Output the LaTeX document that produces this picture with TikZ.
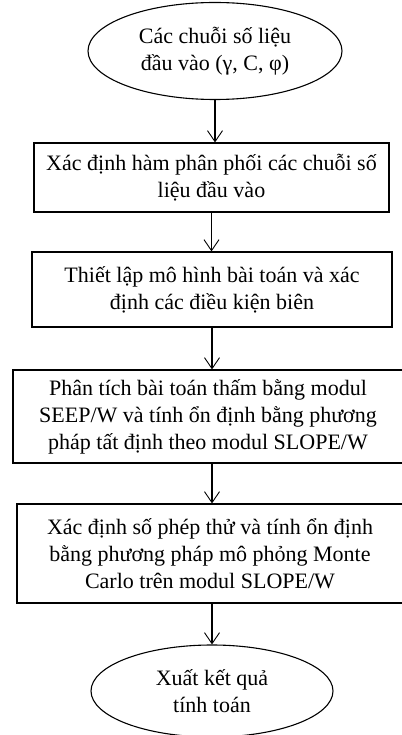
\documentclass[tikz,border=0pt]{standalone}
\usepackage{fontspec}
\setmainfont{Liberation Serif}
\usetikzlibrary{shapes.geometric,arrows.meta}

\begin{document}
\begin{tikzpicture}[x=1pt,y=-1pt,
    font=\fontsize{22}{27}\selectfont,
    line width=1.1pt,
    stepbox/.style={draw, rectangle, align=center, inner sep=0pt},
    oval/.style={draw, ellipse, align=center, inner sep=0pt},
    flow/.style={-{Straight Barb[length=11pt,width=15pt,line width=0.9pt]}}]
        % Frame of the picture
        \useasboundingbox (0,0) rectangle (401,735);

        % Start
        \node[oval, minimum width=254, minimum height=97] (input) at (215,51)
            {Các chuỗi số liệu\\đầu vào (γ, C, φ)};

        % Steps
        \node[stepbox, minimum width=355, minimum height=69] (distr) at (211.5,177.5)
            {Xác định hàm phân phối các chuỗi số\\liệu đầu vào};
        \node[stepbox, minimum width=360, minimum height=75] (model) at (212,289.5)
            {Thiết lập mô hình bài toán và xác\\định các điều kiện biên};
        \node[stepbox, minimum width=390, minimum height=93] (seep) at (208,416.5)
            {Phân tích bài toán thấm bằng modul\\SEEP/W và tính ổn định bằng phương\\pháp tất định theo modul SLOPE/W};
        \node[stepbox, minimum width=386, minimum height=99] (monte) at (210,553.5)
            {Xác định số phép thử và tính ổn định\\bằng phương pháp mô phỏng Monte\\Carlo trên modul SLOPE/W};

        % End
        \node[oval, minimum width=242, minimum height=92] (output) at (212,691)
            {Xuất kết quả\\tính toán};

        % Arrows
        \draw[flow] (input) -- (input |- distr.north);
        \draw[flow] (distr) -- (distr |- model.north);
        \draw[flow] (model) -- (model |- seep.north);
        \draw[flow] (seep.south -| model) -- (model |- monte.north);
        \draw[flow] (monte.south -| output) -- (output);
\end{tikzpicture}
\end{document}
